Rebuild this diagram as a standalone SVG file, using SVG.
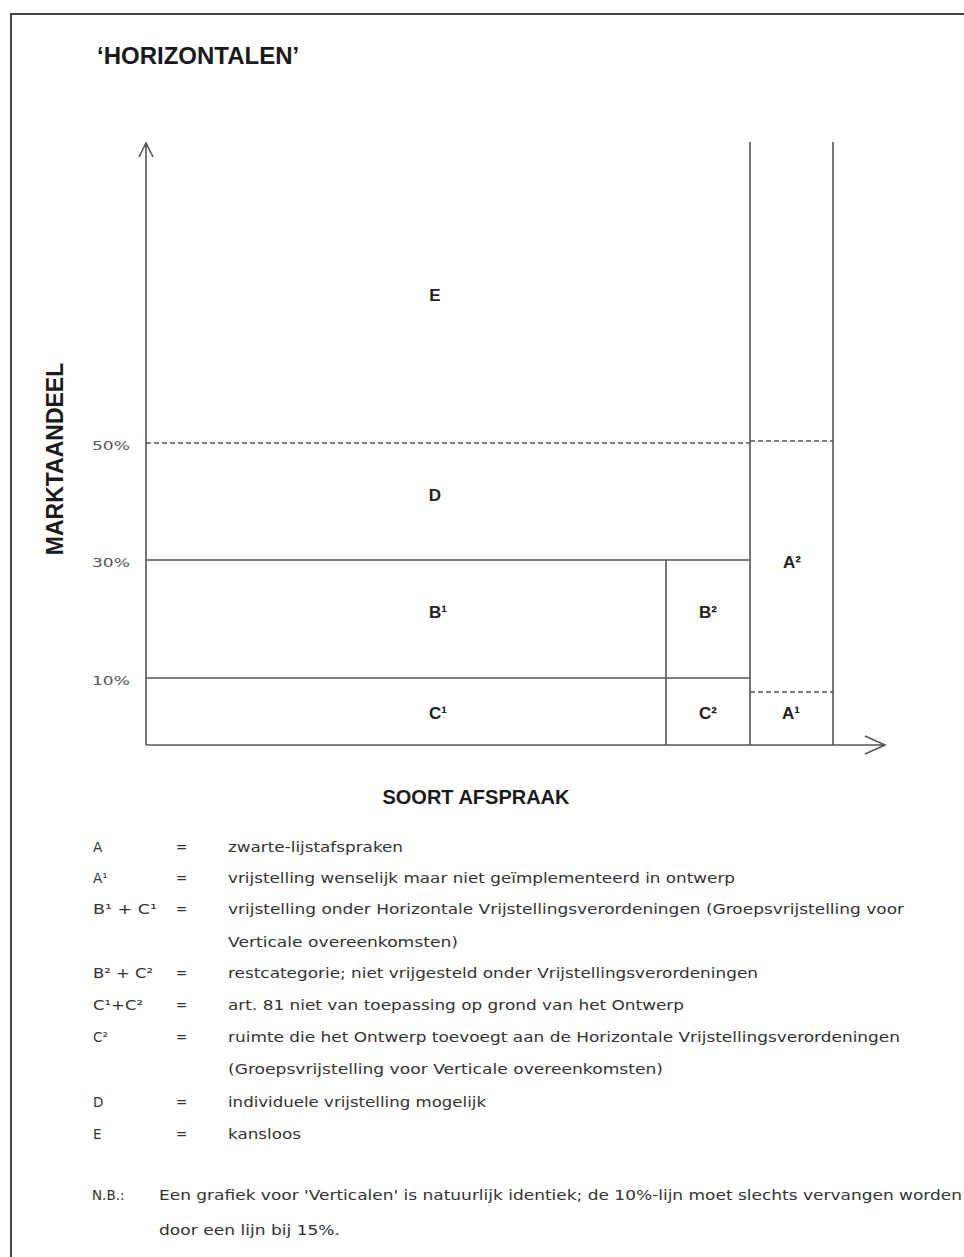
<svg xmlns="http://www.w3.org/2000/svg" width="964" height="1257" viewBox="0 0 964 1257">
<style>
.frame{stroke:#444;stroke-width:2;fill:none}
.ln{stroke:#555;stroke-width:1.6;fill:none}
.dash{stroke:#555;stroke-width:1.4;fill:none;stroke-dasharray:5 3}
.ttl{font-family:"Liberation Sans",Arial,sans-serif;font-weight:bold;fill:#1a1a1a}
.lbl{font-family:"Liberation Sans",Arial,sans-serif;font-weight:bold;font-size:17px;fill:#222;text-anchor:middle}
.tick{font-family:"DejaVu Sans",sans-serif;font-size:13px;fill:#555}
.leg{font-family:"DejaVu Sans",sans-serif;font-size:13.5px;fill:#333}
</style>
<rect width="964" height="1257" fill="#fff"/>
<path class="frame" d="M11,1257 V14 H964"/>
<g id="title"><text class="ttl" x="97" y="64" font-size="24">‘HORIZONTALEN’</text></g>
<g id="axes">
<path class="ln" d="M146,745 V143 M139,157 L146,143 L153,157"/>
<path class="ln" d="M146,745 H885 M865,736 L885,745 L865,754"/>
<text class="ttl" font-size="23" transform="translate(63,459) rotate(-90)" text-anchor="middle">MARKTAANDEEL</text>
<text class="ttl" font-size="20" x="476" y="804" text-anchor="middle">SOORT AFSPRAAK</text>
<text class="tick" x="92" y="450" textLength="38" lengthAdjust="spacingAndGlyphs">50%</text>
<text class="tick" x="92" y="567" textLength="38" lengthAdjust="spacingAndGlyphs">30%</text>
<text class="tick" x="92" y="685" textLength="38" lengthAdjust="spacingAndGlyphs">10%</text>
</g>
<g id="connectors">
<path class="dash" d="M146,443 H750"/>
<path class="dash" d="M750,441 H833"/>
<path class="dash" d="M750,692 H833"/>
<path class="ln" d="M146,560 H750"/>
<path class="ln" d="M146,678 H750"/>
<path class="ln" d="M666,560 V745"/>
<path class="ln" d="M750,142 V745"/>
<path class="ln" d="M833,142 V745"/>
</g>
<g id="node-E"><text class="lbl" x="435" y="301">E</text></g>
<g id="node-D"><text class="lbl" x="435" y="501">D</text></g>
<g id="node-B1"><text class="lbl" x="438" y="618">B¹</text></g>
<g id="node-B2"><text class="lbl" x="708" y="618">B²</text></g>
<g id="node-A2"><text class="lbl" x="792" y="568">A²</text></g>
<g id="node-C1"><text class="lbl" x="438" y="719">C¹</text></g>
<g id="node-C2"><text class="lbl" x="708" y="719">C²</text></g>
<g id="node-A1"><text class="lbl" x="791" y="719">A¹</text></g>
<g id="legend">
<text class="leg" x="93" y="852">A</text><text class="leg" x="176" y="852">=</text><text class="leg" x="228" y="852" textLength="175" lengthAdjust="spacingAndGlyphs">zwarte-lijstafspraken</text>
<text class="leg" x="93" y="883">A¹</text><text class="leg" x="176" y="883">=</text><text class="leg" x="228" y="883" textLength="507" lengthAdjust="spacingAndGlyphs">vrijstelling wenselijk maar niet geïmplementeerd in ontwerp</text>
<text class="leg" x="93" y="914" textLength="64" lengthAdjust="spacingAndGlyphs">B¹ + C¹</text><text class="leg" x="176" y="914">=</text><text class="leg" x="228" y="914" textLength="676" lengthAdjust="spacingAndGlyphs">vrijstelling onder Horizontale Vrijstellingsverordeningen (Groepsvrijstelling voor</text>
<text class="leg" x="228" y="947" textLength="230" lengthAdjust="spacingAndGlyphs">Verticale overeenkomsten)</text>
<text class="leg" x="93" y="978" textLength="60" lengthAdjust="spacingAndGlyphs">B² + C²</text><text class="leg" x="176" y="978">=</text><text class="leg" x="228" y="978" textLength="530" lengthAdjust="spacingAndGlyphs">restcategorie; niet vrijgesteld onder Vrijstellingsverordeningen</text>
<text class="leg" x="93" y="1010" textLength="50" lengthAdjust="spacingAndGlyphs">C¹+C²</text><text class="leg" x="176" y="1010">=</text><text class="leg" x="228" y="1010" textLength="456" lengthAdjust="spacingAndGlyphs">art. 81 niet van toepassing op grond van het Ontwerp</text>
<text class="leg" x="93" y="1042">C²</text><text class="leg" x="176" y="1042">=</text><text class="leg" x="228" y="1042" textLength="672" lengthAdjust="spacingAndGlyphs">ruimte die het Ontwerp toevoegt aan de Horizontale Vrijstellingsverordeningen</text>
<text class="leg" x="228" y="1074" textLength="435" lengthAdjust="spacingAndGlyphs">(Groepsvrijstelling voor Verticale overeenkomsten)</text>
<text class="leg" x="93" y="1107">D</text><text class="leg" x="176" y="1107">=</text><text class="leg" x="228" y="1107" textLength="258" lengthAdjust="spacingAndGlyphs">individuele vrijstelling mogelijk</text>
<text class="leg" x="93" y="1139">E</text><text class="leg" x="176" y="1139">=</text><text class="leg" x="228" y="1139" textLength="73" lengthAdjust="spacingAndGlyphs">kansloos</text>
<text class="leg" x="92" y="1200">N.B.:</text><text class="leg" x="159" y="1200" textLength="803" lengthAdjust="spacingAndGlyphs">Een grafiek voor 'Verticalen' is natuurlijk identiek; de 10%-lijn moet slechts vervangen worden</text>
<text class="leg" x="159" y="1235" textLength="181" lengthAdjust="spacingAndGlyphs">door een lijn bij 15%.</text>
</g>
</svg>
